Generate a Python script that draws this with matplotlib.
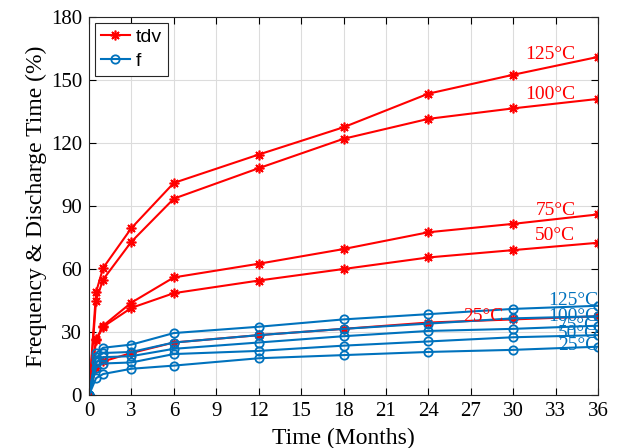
import matplotlib.pyplot as plt
import numpy as np

months = [0, 0.5, 1, 3, 6, 12, 18, 24, 30, 36]
temps = ["125°C", "100°C", "75°C", "50°C", "25°C"]

tdv_125 = [0, 49, 60.5, 79.5, 101, 114.5, 127.5, 143.5, 152.5, 161]
tdv_100 = [0, 45, 55, 73, 93.5, 108, 122, 131.5, 136.5, 141]
tdv_75 = [0, 26.5, 33, 44, 56, 62.5, 69.5, 77.5, 81.5, 86]
tdv_50 = [0, 26, 32.5, 41.5, 48.5, 54.5, 60, 65.5, 69, 72.5]
tdv_25 = [0, 13, 16, 20, 25, 28.5, 31.5, 34.5, 36, 37.5]

f_125 = [0, 20, 22.5, 24, 29.5, 32.5, 36, 38.5, 41, 42.5]
f_100 = [0, 18, 20, 20.5, 25, 28.5, 31.5, 34, 36.5, 37.5]
f_75 = [0, 15.5, 18, 18.5, 22, 25, 28, 30.5, 31.5, 33]
f_50 = [0, 13, 15, 15.5, 19.5, 21, 23.5, 25.5, 27.5, 28.5]
f_25 = [0, 8, 10, 12.5, 14, 17.5, 19, 20.5, 21.5, 23]

tdv_all = [tdv_125, tdv_100, tdv_75, tdv_50, tdv_25]
f_all = [f_125, f_100, f_75, f_50, f_25]

red = "#FF0000"
blue = "#0072BD"
serif = "Liberation Serif"

fig = plt.figure(figsize=(6.21, 4.48), dpi=100)
ax = fig.add_axes([0.1433, 0.1183, 0.8197, 0.8437])

for i, y in enumerate(tdv_all):
    ax.plot(months, y, color=red, lw=1.5, marker=(8, 2, 0), ms=7, mew=1.2,
            label="tdv" if i == 0 else None)
for i, y in enumerate(f_all):
    ax.plot(months, y, color=blue, lw=1.5, marker="o", ms=6, mfc="none", mew=1.3,
            label="f" if i == 0 else None)

# labels next to the curves
red_pos = [(34.4, 162), (34.4, 143), (34.4, 88), (34.4, 76), (27.9, 37.6)]
for (x, yy), t in zip(red_pos, temps):
    ax.text(x, yy, t, color=red, family=serif, fontsize=14,
            ha="right" if x > 30 else "center", va="center")
blue_pos = [45.2, 37.6, 33.3, 29.5, 23.8]
for yy, t in zip(blue_pos, temps):
    ax.text(36, yy, t, color=blue, family=serif, fontsize=14,
            ha="right", va="center")

ax.set_xlim(0, 36)
ax.set_ylim(0, 180)
ax.set_xticks(np.arange(0, 37, 3))
ax.set_yticks(np.arange(0, 181, 30))
ax.grid(True, color="#dcdcdc", lw=0.8)
ax.set_axisbelow(True)
ax.tick_params(direction="in", top=True, right=True, labelsize=15, length=5, pad=5)
for lab in ax.get_xticklabels() + ax.get_yticklabels():
    lab.set_family(serif)
for s in ax.spines.values():
    s.set_color("#262626")
ax.set_xlabel("Time (Months)", family=serif, fontsize=17, labelpad=5)
ax.set_ylabel("Frequency & Discharge Time (%)", family=serif, fontsize=17, labelpad=3)

leg = ax.legend(loc="upper left", prop={"family": "Liberation Sans", "size": 14},
                fancybox=False, edgecolor="#262626", handlelength=1.5,
                handletextpad=0.3, borderpad=0.3, labelspacing=0.3,
                borderaxespad=0.3, framealpha=1)
leg.get_frame().set_linewidth(0.8)

fig.savefig("out.png", dpi=100)
